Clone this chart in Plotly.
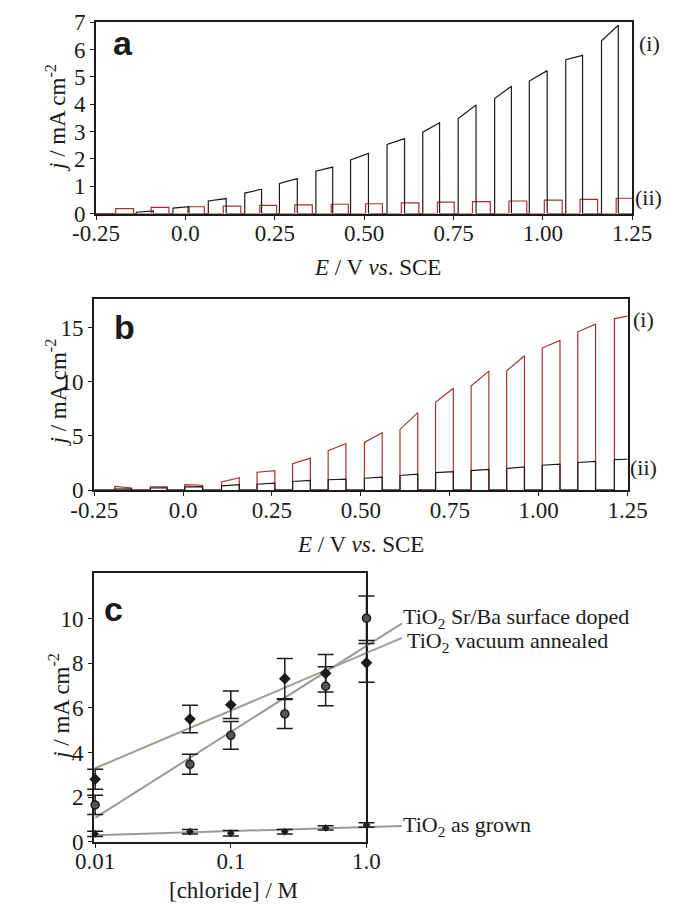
import numpy as np
import plotly.graph_objects as go

W, H = 685, 919

RED = "#a8322d"
BLACK = "#1b1b1b"
FIT_GREY = "#9a9a9a"
FIT_TAUPE = "#a39b93"
SERIF = "Liberation Serif"
SANS = "Liberation Sans"

E_MIN, E_MAX = -0.25, 1.25
E_TICKS = [-0.25, 0.0, 0.25, 0.5, 0.75, 1.0, 1.25]
E_TICKTEXT = ["-0.25", "0.0", "0.25", "0.50", "0.75", "1.00", "1.25"]

# ---- panel a: chopped-light photocurrent, (i) black and (ii) red
A_I_ON = [-0.137, -0.035, 0.064, 0.166, 0.263, 0.365, 0.462, 0.564, 0.664, 0.763, 0.865, 0.962, 1.064, 1.164]
A_I_OFF = [-0.090, 0.010, 0.114, 0.213, 0.313, 0.412, 0.512, 0.613, 0.711, 0.813, 0.912, 1.012, 1.111, 1.211]
A_I_J0 = [0.05, 0.20, 0.46, 0.75, 1.10, 1.55, 1.96, 2.53, 2.98, 3.48, 4.21, 4.85, 5.63, 6.32]
A_I_J1 = [0.10, 0.25, 0.55, 0.89, 1.28, 1.70, 2.20, 2.74, 3.32, 3.97, 4.66, 5.23, 5.79, 6.89]

A_II_ON = [-0.195, -0.096, 0.007, 0.106, 0.208, 0.306, 0.408, 0.504, 0.604, 0.705, 0.803, 0.905, 1.004, 1.104, 1.205]
A_II_OFF = [-0.145, -0.046, 0.053, 0.155, 0.255, 0.355, 0.456, 0.551, 0.653, 0.752, 0.853, 0.955, 1.054, 1.153, 1.300]
A_II_J = [0.18, 0.23, 0.25, 0.27, 0.30, 0.32, 0.34, 0.36, 0.39, 0.42, 0.44, 0.46, 0.49, 0.52, 0.56]

# ---- panel b: (i) red and (ii) black share the light-on windows
B_ON = [-0.192, -0.092, 0.005, 0.108, 0.208, 0.308, 0.408, 0.510, 0.610, 0.710, 0.810, 0.910, 1.010, 1.110, 1.213]
B_OFF = [-0.145, -0.045, 0.055, 0.158, 0.258, 0.358, 0.458, 0.560, 0.660, 0.760, 0.860, 0.960, 1.060, 1.160, 1.300]
B_I_J0 = [0.35, 0.30, 0.50, 0.75, 1.65, 2.45, 3.65, 4.40, 5.60, 8.10, 9.60, 11.0, 13.1, 14.6, 15.8]
B_I_J1 = [0.20, 0.30, 0.45, 1.15, 1.80, 2.95, 4.30, 5.30, 7.15, 9.40, 11.0, 12.4, 13.8, 15.3, 16.4]
B_II_J0 = [0.10, 0.20, 0.30, 0.40, 0.55, 0.80, 0.96, 1.10, 1.35, 1.62, 1.80, 2.00, 2.30, 2.55, 2.81]
B_II_J1 = [0.12, 0.22, 0.32, 0.50, 0.65, 0.90, 1.02, 1.20, 1.47, 1.70, 1.92, 2.15, 2.40, 2.66, 2.90]

# ---- panel c: photocurrent vs chloride concentration
CONC = [0.01, 0.05, 0.1, 0.25, 0.5, 1.0]
SRBA_J = [1.65, 3.47, 4.77, 5.73, 6.97, 10.02]
SRBA_ERR = [0.43, 0.45, 0.62, 0.65, 0.87, 1.00]
VAC_J = [2.80, 5.50, 6.14, 7.31, 7.55, 8.02]
VAC_ERR = [0.45, 0.62, 0.62, 0.90, 0.84, 0.87]
GROWN_J = [0.35, 0.45, 0.38, 0.45, 0.62, 0.75]
GROWN_ERR = [0.12, 0.10, 0.12, 0.10, 0.10, 0.10]
C_LABELS = ["TiO<sub>2</sub> Sr/Ba surface doped", "TiO<sub>2</sub> vacuum annealed", "TiO<sub>2</sub> as grown"]


def px_x(a, b):
    return [a / W, b / W]


def px_y(top, bottom):
    return [1 - bottom / H, 1 - top / H]


def chopped(on, off, j0, j1):
    x, y = [E_MIN], [0]
    for a, b, p, q in zip(on, off, j0, j1):
        x += [a, a, b, b]
        y += [0, p, q, 0]
    if off[-1] < E_MAX:
        x.append(E_MAX)
        y.append(0)
    return x, y


def line(x, y, color, xa, ya):
    return go.Scatter(x=x, y=y, mode="lines", line=dict(color=color, width=1.2),
                      xaxis=xa, yaxis=ya, showlegend=False, hoverinfo="skip")


fig = go.Figure()

# panel a
fig.add_trace(line(*chopped(A_II_ON, A_II_OFF, A_II_J, A_II_J), RED, "x", "y"))
fig.add_trace(line(*chopped(A_I_ON, A_I_OFF, A_I_J0, A_I_J1), BLACK, "x", "y"))

# panel b
fig.add_trace(line(*chopped(B_ON, B_OFF, B_I_J0, B_I_J1), RED, "x2", "y2"))
fig.add_trace(line(*chopped(B_ON, B_OFF, B_II_J0, B_II_J1), BLACK, "x2", "y2"))

# panel c: frame axes x3/y3, data on wider overlay x4/y4 so leaders run past the frame
C_LEFT, C_RIGHT, C_TOP, C_BOT = 75, 366, 577, 853
C_LO, C_HI = -2.007, 0.0
K = (C_RIGHT - C_LEFT) / (C_HI - C_LO)
W_LEFT, W_RIGHT = 55, 404
W_LO = C_LO - (C_LEFT - W_LEFT) / K
W_HI = C_HI + (W_RIGHT - C_RIGHT) / K
C_YMAX = 12.05

fig.add_trace(go.Scatter(x=[], y=[], xaxis="x3", yaxis="y3", showlegend=False))

logc = np.log10(CONC)
x_fit = np.array([CONC[0], 10 ** W_HI])
for vals, color in [(SRBA_J, FIT_GREY), (VAC_J, FIT_TAUPE), (GROWN_J, FIT_GREY)]:
    slope, icpt = np.polyfit(logc, vals, 1)
    fig.add_trace(go.Scatter(
        x=x_fit, y=icpt + slope * np.log10(x_fit), mode="lines",
        line=dict(color=color, width=2), xaxis="x4", yaxis="y4",
        showlegend=False, hoverinfo="skip",
    ))

err_style = dict(type="data", color=BLACK, thickness=1.5, width=8)
fig.add_trace(go.Scatter(
    x=CONC, y=VAC_J, mode="markers", error_y=dict(array=VAC_ERR, **err_style),
    marker=dict(symbol="diamond", size=9, color=BLACK),
    xaxis="x4", yaxis="y4", showlegend=False,
))
fig.add_trace(go.Scatter(
    x=CONC, y=SRBA_J, mode="markers", error_y=dict(array=SRBA_ERR, **err_style),
    marker=dict(symbol="circle", size=8, color="#555555", line=dict(color=BLACK, width=1.5)),
    xaxis="x4", yaxis="y4", showlegend=False,
))
fig.add_trace(go.Scatter(
    x=CONC, y=GROWN_J, mode="markers", error_y=dict(array=GROWN_ERR, **err_style),
    marker=dict(symbol="diamond", size=6, color=BLACK),
    xaxis="x4", yaxis="y4", showlegend=False,
))

tick_font = dict(family=SERIF, size=23, color=BLACK)
frame = dict(showline=True, linecolor=BLACK, linewidth=2, mirror=True, showgrid=False,
             zeroline=False, ticks="outside", ticklen=4, tickwidth=1, tickcolor=BLACK,
             tickfont=tick_font, ticklabeloverflow="allow")
xframe = dict(frame, ticklabelstandoff=-6)

fig.update_layout(
    width=W, height=H,
    margin=dict(l=0, r=0, t=0, b=0),
    paper_bgcolor="white",
    plot_bgcolor="rgba(0,0,0,0)",
    font=dict(family=SERIF, color=BLACK),
    xaxis=dict(domain=px_x(77, 650), range=[E_MIN, E_MAX], anchor="y",
               tickvals=E_TICKS, ticktext=E_TICKTEXT, **xframe),
    yaxis=dict(domain=px_y(11, 208), range=[0, 7.02], anchor="x", tickvals=list(range(8)), **frame),
    xaxis2=dict(domain=px_x(75, 645), range=[E_MIN, E_MAX], anchor="y2",
                tickvals=E_TICKS, ticktext=E_TICKTEXT, **xframe),
    yaxis2=dict(domain=px_y(296, 492), range=[0, 17.6], anchor="x2", tickvals=[0, 5, 10, 15], **frame),
    xaxis3=dict(domain=px_x(C_LEFT, C_RIGHT), type="log", range=[C_LO, C_HI], anchor="y3",
                tickvals=[0.01, 0.1, 1.0], ticktext=["0.01", "0.1", "1.0"], **xframe),
    yaxis3=dict(domain=px_y(C_TOP, C_BOT), range=[0, C_YMAX], anchor="x3",
                tickvals=[0, 2, 4, 6, 8, 10], **frame),
    xaxis4=dict(domain=px_x(W_LEFT, W_RIGHT), type="log", range=[W_LO, W_HI], anchor="y4", visible=False),
    yaxis4=dict(domain=px_y(C_TOP, C_BOT), range=[0, C_YMAX], anchor="x4", visible=False),
)

ann = []


def text(x, y, s, size=23, family=SERIF, angle=0, xanchor="center"):
    ann.append(dict(x=x / W, y=1 - y / H, xref="paper", yref="paper", text=s, showarrow=False,
                    textangle=angle, xanchor=xanchor, yanchor="middle",
                    font=dict(family=family, size=size, color=BLACK)))


x_title = "<i>E</i> / V <i>vs</i>. SCE"
y_title = "<i>j</i> / mA cm<sup>-2</sup>"
text(378, 263, x_title)
text(360, 548, x_title)
text(224, 903, "[chloride] / M")
text(34, 110, y_title, angle=-90)
text(35, 392, y_title, angle=-90)
text(38, 715, y_title, angle=-90)

bold = dict(size=34, family=SANS)
text(106, 33, "<b>a</b>", **bold)
text(107, 324, "<b>b</b>", **bold)
text(96, 614, "<b>c</b>", **bold)

text(668, 33, "(i)", size=22)
text(667, 192, "(ii)", size=22)
text(662, 317, "(i)", size=22)
text(662, 469, "(ii)", size=22)

text(403, 623, C_LABELS[0], size=22, xanchor="left")
text(407, 648, C_LABELS[1], size=22, xanchor="left")
text(403, 837, C_LABELS[2], size=22, xanchor="left")

fig.update_layout(annotations=ann)

# drop the default page margin so the 685x919 figure fills the window exactly
page_fix = ("document.body.style.margin='0';"
            "document.body.style.overflow='hidden';"
            "document.documentElement.style.overflow='hidden';")
fig.write_html("out.html", post_script=page_fix, config={"displayModeBar": False})
